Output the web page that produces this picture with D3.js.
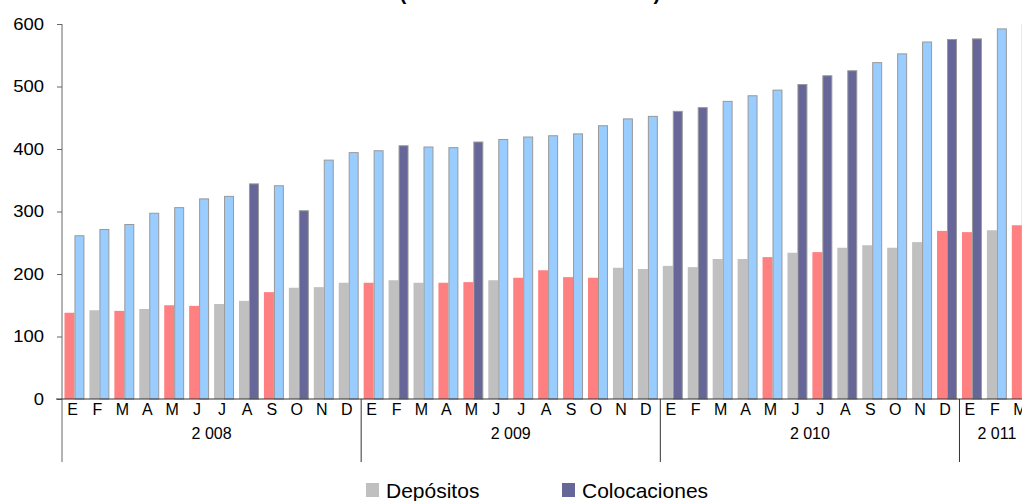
<!DOCTYPE html>
<html>
<head>
<meta charset="utf-8">
<script src="https://cdn.jsdelivr.net/npm/d3@7"></script>
<style>
  body { margin: 0; background: #fff; }
  svg { display: block; font-family: "Liberation Sans", Arial, sans-serif; }
</style>
</head>
<body>
<div class="chart"></div>
<script>
// month letters, repeated each year (E 2008 .. M 2011)
var monthLetters = ["E", "F", "M", "A", "M", "J", "J", "A", "S", "O", "N", "D"];
var years = ["2 008", "2 009", "2 010", "2 011"];
var monthsPerYear = [12, 12, 12, 3];

var depositos = [138, 142, 141, 144, 150, 149, 152, 157, 171, 178, 179, 186,
  186, 190, 186, 186, 187, 190, 194, 206, 195, 194, 210, 208,
  213, 211, 224, 224, 227, 234, 235, 242, 246, 242, 251, 269,
  267, 270, 278];

var colocaciones = [262, 272, 280, 298, 307, 321, 325, 345, 342, 302, 383, 395,
  398, 406, 404, 403, 412, 416, 420, 422, 425, 438, 449, 453,
  461, 467, 477, 486, 495, 504, 518, 526, 539, 553, 572, 576,
  577, 593, 600];

// months (index) drawn with the highlight colour
var depHighlight = [0, 2, 4, 5, 8, 12, 15, 16, 18, 19, 20, 21, 28, 30, 35, 36, 38];
var colHighlight = [7, 9, 13, 16, 24, 25, 29, 30, 31, 35, 36];

var yTicks = [0, 100, 200, 300, 400, 500, 600];
var seriesNames = ["Depósitos", "Colocaciones"];

var svgWidth = 1022;
var svgHeight = 501;

var svg = d3
  .select(".chart")
  .append("svg")
  .attr("width", svgWidth)
  .attr("height", svgHeight);

// build month table
var data = [];
var k = 0;
years.forEach(function (yr, yi) {
  for (var m = 0; m < monthsPerYear[yi]; m++) {
    data.push({
      id: k,
      year: yr,
      month: monthLetters[m],
      dep: depositos[k],
      col: colocaciones[k],
    });
    k++;
  }
});

var left = 62;
var step = 24.93;

var x = d3
  .scaleBand()
  .domain(data.map((d) => d.id))
  .range([left, left + step * data.length])
  .padding(0);

var xSub = d3
  .scaleBand()
  .domain(["dep", "col"])
  .range([0, x.bandwidth()])
  .paddingInner(0)
  .paddingOuter(0.25);

var y = d3.scaleLinear().domain([0, 600]).range([399, 24]);

// title (only the bottom of it shows in the frame)
svg
  .append("text")
  .attr("x", 530)
  .attr("y", 0)
  .attr("text-anchor", "middle")
  .attr("font-size", 20.5)
  .attr("font-weight", "bold")
  .text("(Millones de nuevos soles)");

// bars
var groups = svg
  .selectAll(".month")
  .data(data)
  .enter()
  .append("g")
  .attr("transform", (d) => `translate(${x(d.id)},0)`);

groups
  .append("rect")
  .attr("x", xSub("dep"))
  .attr("width", xSub.bandwidth())
  .attr("y", (d) => y(d.dep))
  .attr("height", (d) => y(0) - y(d.dep))
  .attr("fill", (d) => (depHighlight.includes(d.id) ? "#ff8080" : "#c0c0c0"));

groups
  .append("rect")
  .attr("x", xSub("col") + 0.5)
  .attr("width", xSub.bandwidth() - 1)
  .attr("y", (d) => y(d.col) + 0.5)
  .attr("height", (d) => y(0) - y(d.col) - 0.5)
  .attr("fill", (d) => (colHighlight.includes(d.id) ? "#666699" : "#99ccff"))
  .attr("stroke", "#999999")
  .attr("stroke-width", 1);

// y axis
var yAxis = d3.axisLeft(y).tickValues(yTicks).tickSize(5).tickPadding(12);
var yG = svg.append("g").attr("transform", `translate(${left},0)`).call(yAxis);
yG.select(".domain").remove();
yG.selectAll(".tick line").attr("stroke", "#666");
yG.selectAll("text")
  .attr("font-size", 16.5)
  .attr("fill", "#000")
  .attr("font-family", "Liberation Sans, Arial, sans-serif")
  .attr("x", -16)
  .attr("transform", "scale(1.12,1)");

svg
  .append("line")
  .attr("x1", left).attr("x2", left)
  .attr("y1", y(600)).attr("y2", 462)
  .attr("stroke", "#666");

// baseline
svg
  .append("line")
  .attr("x1", left - 6).attr("x2", svgWidth)
  .attr("y1", y(0)).attr("y2", y(0))
  .attr("stroke", "#333");

// month letters
svg
  .selectAll(".mlabel")
  .data(data)
  .enter()
  .append("text")
  .attr("x", (d) => x(d.id) + x.bandwidth() / 2 - 2)
  .attr("y", 415)
  .attr("text-anchor", "middle")
  .attr("font-size", 16)
  .text((d) => d.month);

// year labels and separators
var start = 0;
years.forEach(function (yr, yi) {
  var x0 = x(start);
  var x1 = x0 + step * monthsPerYear[yi];
  if (yi > 0) {
    svg
      .append("line")
      .attr("x1", x0).attr("x2", x0)
      .attr("y1", y(0)).attr("y2", 462)
      .attr("stroke", "#333");
  }
  svg
    .append("text")
    .attr("x", (x0 + x1) / 2)
    .attr("y", 439)
    .attr("text-anchor", "middle")
    .attr("font-size", 16)
    .text(yr);
  start += monthsPerYear[yi];
});

// legend
var legendX = [366, 562];
var legendColors = ["#c0c0c0", "#666699"];
seriesNames.forEach(function (name, i) {
  svg
    .append("rect")
    .attr("x", legendX[i])
    .attr("y", 483)
    .attr("width", 13)
    .attr("height", 14)
    .attr("fill", legendColors[i]);
  svg
    .append("text")
    .attr("x", legendX[i] + 20)
    .attr("y", 498)
    .attr("font-size", 21)
    .text(name);
});
</script>
</body>
</html>
